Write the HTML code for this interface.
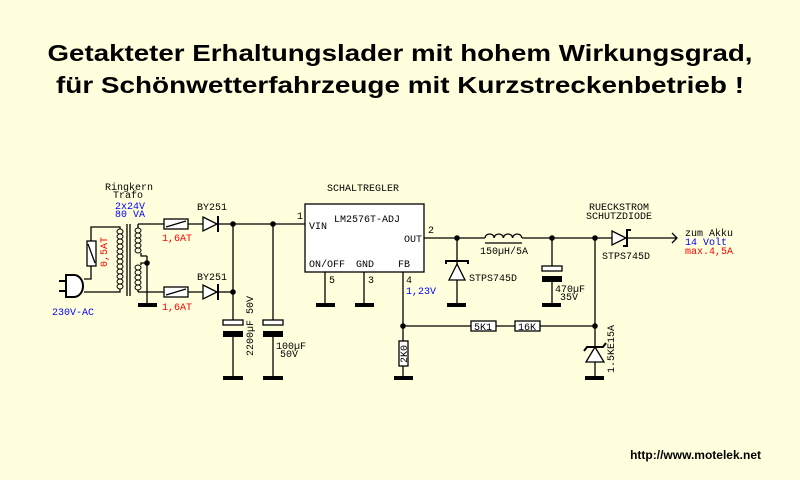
<!DOCTYPE html>
<html><head><meta charset="utf-8"><style>
html,body{margin:0;padding:0;background:#ffffdd;}
svg{display:block}
.m{font-family:"Liberation Mono",monospace;font-size:10px;}
</style></head><body>
<svg width="800" height="480" viewBox="0 0 800 480" xmlns="http://www.w3.org/2000/svg">
<rect width="800" height="480" fill="#ffffdd"/>
<g font-family="Liberation Sans, sans-serif" font-weight="bold" font-size="23" fill="#000" text-anchor="middle">
<text x="400" y="61" textLength="705" lengthAdjust="spacingAndGlyphs">Getakteter Erhaltungslader mit hohem Wirkungsgrad,</text>
<text x="400" y="93" textLength="688" lengthAdjust="spacingAndGlyphs">für Schönwetterfahrzeuge mit Kurzstreckenbetrieb !</text>
</g>
<text x="761" y="459" font-family="Liberation Sans, sans-serif" font-weight="bold" font-size="12" text-anchor="end">http://www.motelek.net</text>

<g stroke="#000" stroke-width="1.3" fill="none">
<!-- primary -->
<polyline points="84,279 91,279 91,227 120,227 120,229"/>
<polyline points="84,292 120,292 120,289"/>
<rect x="87" y="241" width="9" height="25" fill="#fff"/>
<line x1="88" y1="244" x2="95" y2="263"/>
<!-- plug -->
<path d="M66,275 h8 a9,11 0 0 1 0,22 h-8 z" fill="#fff" stroke-width="2"/>
<line x1="59" y1="281" x2="66" y2="281" stroke-width="2"/>
<line x1="59" y1="291" x2="66" y2="291" stroke-width="2"/>
<!-- coils -->
<g stroke-width="1">
<ellipse cx="120" cy="231.5" rx="3" ry="2.5"/><ellipse cx="120" cy="236.5" rx="3" ry="2.5"/><ellipse cx="120" cy="241.5" rx="3" ry="2.5"/><ellipse cx="120" cy="246.5" rx="3" ry="2.5"/><ellipse cx="120" cy="251.5" rx="3" ry="2.5"/><ellipse cx="120" cy="256.5" rx="3" ry="2.5"/><ellipse cx="120" cy="261.5" rx="3" ry="2.5"/><ellipse cx="120" cy="266.5" rx="3" ry="2.5"/><ellipse cx="120" cy="271.5" rx="3" ry="2.5"/><ellipse cx="120" cy="276.5" rx="3" ry="2.5"/><ellipse cx="120" cy="281.5" rx="3" ry="2.5"/><ellipse cx="120" cy="286.5" rx="3" ry="2.5"/>
<ellipse cx="138" cy="230.5" rx="3" ry="2.5"/><ellipse cx="138" cy="235.5" rx="3" ry="2.5"/><ellipse cx="138" cy="240.5" rx="3" ry="2.5"/><ellipse cx="138" cy="245.5" rx="3" ry="2.5"/><ellipse cx="138" cy="250.5" rx="3" ry="2.5"/>
<ellipse cx="138" cy="267.5" rx="3" ry="2.5"/><ellipse cx="138" cy="272.5" rx="3" ry="2.5"/><ellipse cx="138" cy="277.5" rx="3" ry="2.5"/><ellipse cx="138" cy="282.5" rx="3" ry="2.5"/><ellipse cx="138" cy="287.5" rx="3" ry="2.5"/>
</g>
<line x1="127" y1="224" x2="127" y2="296"/>
<line x1="130" y1="224" x2="130" y2="296"/>
<polyline points="141,253 141,256 147,256"/>
<polyline points="141,265 141,263 147,263"/>
<line x1="138" y1="224" x2="138" y2="228"/>
<line x1="138" y1="292" x2="138" y2="290"/>
<line x1="138" y1="224" x2="203" y2="224"/>
<line x1="138" y1="292" x2="203" y2="292"/>
<line x1="147" y1="256" x2="147" y2="305"/>
<!-- fuses -->
<rect x="164" y="219" width="24" height="10" fill="#fff"/><line x1="166" y1="227" x2="186" y2="221"/>
<rect x="164" y="287" width="24" height="10" fill="#fff"/><line x1="166" y1="295" x2="186" y2="289"/>
<!-- diodes -->
<polygon points="203,217 217,224 203,231" fill="#fff"/>
<line x1="218" y1="216" x2="218" y2="232" stroke-width="2"/>
<polygon points="203,285 217,292 203,299" fill="#fff"/>
<line x1="218" y1="284" x2="218" y2="300" stroke-width="2"/>
<line x1="218" y1="224" x2="305" y2="224"/>
<line x1="218" y1="292" x2="233" y2="292"/>
<line x1="233" y1="224" x2="233" y2="320"/>
<line x1="233" y1="337" x2="233" y2="378"/>
<line x1="273" y1="224" x2="273" y2="320"/>
<line x1="273" y1="337" x2="273" y2="378"/>
<rect x="223" y="320" width="20" height="5" fill="#fff"/>
<rect x="263" y="320" width="20" height="5" fill="#fff"/>
<!-- IC -->
<rect x="305" y="204" width="119" height="68" fill="#fff"/>
<line x1="325" y1="272" x2="325" y2="305"/>
<line x1="364" y1="272" x2="364" y2="305"/>
<line x1="403" y1="272" x2="403" y2="378"/>
<line x1="424" y1="238" x2="485" y2="238"/>
<line x1="522" y1="238" x2="677" y2="238"/>
<path d="M485,238 a4.6,4 0 0 1 9.2,0 a4.6,4 0 0 1 9.2,0 a4.6,4 0 0 1 9.2,0 a4.6,4 0 0 1 9.2,0"/>
<line x1="485" y1="243" x2="522" y2="243"/>
<polyline points="672,233 677,238 672,243"/>
<!-- schottky -->
<line x1="457" y1="238" x2="457" y2="305"/>
<polygon points="457,264 449,280 465,280" fill="#fff"/>
<polyline points="446,264 446,261 468,261 468,264" stroke-width="2"/>
<!-- 470 cap -->
<line x1="552" y1="238" x2="552" y2="266"/>
<line x1="552" y1="280" x2="552" y2="305"/>
<rect x="542" y="266" width="20" height="5" fill="#fff"/>
<!-- protect diode -->
<polygon points="612,231 626,238 612,245" fill="#fff"/>
<polyline points="623,246 627,246 627,230 631,230" stroke-width="2"/>
<!-- FB network -->
<line x1="403" y1="326" x2="595" y2="326"/>
<line x1="595" y1="238" x2="595" y2="378"/>
<rect x="471" y="321" width="25" height="10" fill="#fff"/>
<rect x="515" y="321" width="25" height="10" fill="#fff"/>
<rect x="399" y="341" width="9" height="25" fill="#fff"/>
<polygon points="595,347 586,362 604,362" fill="#fff"/>
<polyline points="584,351 587,347 603,347 606,343" stroke-width="2"/>
</g>
<!-- filled parts -->
<g fill="#000">
<rect x="223" y="331" width="20" height="6"/><rect x="263" y="331" width="20" height="6"/>
<rect x="542" y="276" width="20" height="6"/>
<rect x="138" y="303" width="19" height="4"/>
<rect x="223" y="376" width="20" height="4"/><rect x="263" y="376" width="20" height="4"/>
<rect x="316" y="303" width="19" height="4"/><rect x="355" y="303" width="19" height="4"/>
<rect x="447" y="303" width="19" height="4"/><rect x="542" y="303" width="19" height="4"/>
<rect x="394" y="376" width="19" height="4"/><rect x="585" y="376" width="19" height="4"/>
<circle cx="147" cy="263" r="2.8"/>
<circle cx="233" cy="224" r="2.8"/><circle cx="273" cy="224" r="2.8"/><circle cx="233" cy="292" r="2.8"/>
<circle cx="457" cy="238" r="2.8"/><circle cx="552" cy="238" r="2.8"/><circle cx="595" cy="238" r="2.8"/>
<circle cx="403" cy="326" r="2.8"/><circle cx="595" cy="326" r="2.8"/>
</g>
<g class="m" fill="#000">
<text x="105" y="190">Ringkern</text>
<text x="113" y="198">Trafo</text>
<text x="115" y="209" fill="#0000ff">2x24V</text>
<text x="115" y="217" fill="#0000ff">80 VA</text>
<text x="52" y="315" fill="#0000ff">230V-AC</text>
<text x="162" y="241" fill="#ff0000">1,6AT</text>
<text x="162" y="310" fill="#ff0000">1,6AT</text>
<text x="197" y="210">BY251</text>
<text x="197" y="280">BY251</text>
<text transform="translate(107,267) rotate(-90)" fill="#ff0000">0,5AT</text>
<text transform="translate(253,356) rotate(-90)">2200µF 50V</text>
<text x="276" y="349">100µF</text>
<text x="280" y="357">50V</text>
<text x="327" y="191">SCHALTREGLER</text>
<text x="334" y="222">LM2576T-ADJ</text>
<text x="309" y="229">VIN</text>
<text x="404" y="242">OUT</text>
<text x="309" y="267">ON/OFF</text>
<text x="356" y="267">GND</text>
<text x="398" y="267">FB</text>
<text x="297" y="219">1</text>
<text x="428" y="233">2</text>
<text x="329" y="283">5</text>
<text x="368" y="283">3</text>
<text x="406" y="283">4</text>
<text x="406" y="294" fill="#0000ff">1,23V</text>
<text x="480" y="254">150µH/5A</text>
<text x="469" y="281">STPS745D</text>
<text x="555" y="292">470µF</text>
<text x="560" y="300">35V</text>
<text x="589" y="210">RUECKSTROM</text>
<text x="586" y="219">SCHUTZDIODE</text>
<text x="602" y="259">STPS745D</text>
<text x="685" y="236">zum Akku</text>
<text x="685" y="245" fill="#0000ff">14 Volt</text>
<text x="685" y="254" fill="#ff0000">max.4,5A</text>
<text x="474" y="330">5K1</text>
<text x="518" y="330">16K</text>
<text transform="translate(407,363) rotate(-90)">2K0</text>
<text transform="translate(614,373) rotate(-90)">1.5KE15A</text>
</g>
</svg>
</body></html>
